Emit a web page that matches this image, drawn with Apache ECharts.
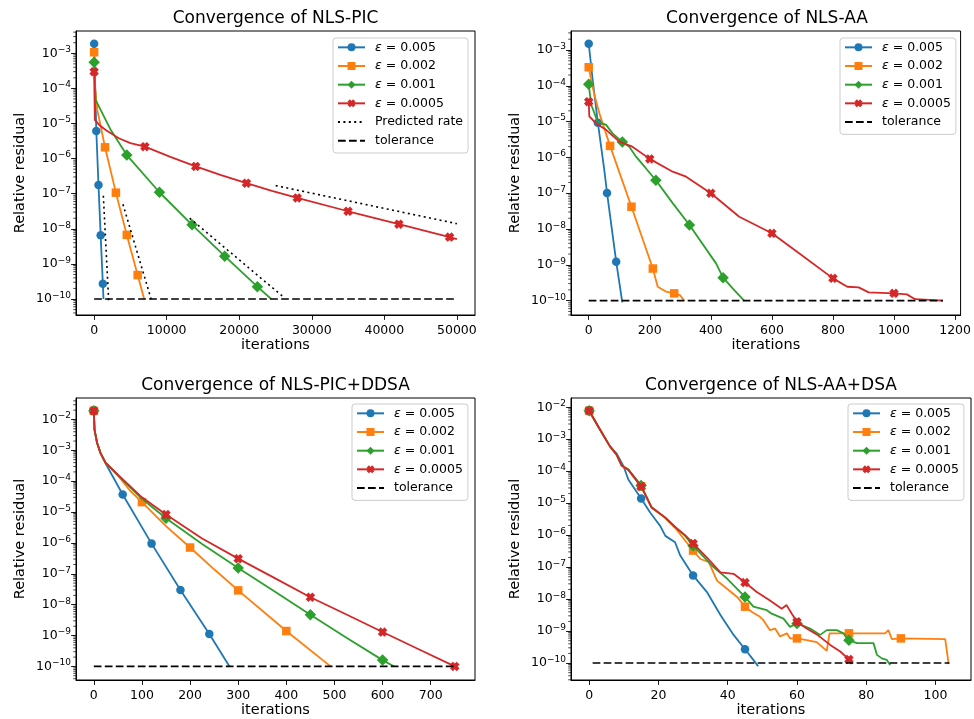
<!DOCTYPE html>
<html><head><meta charset="utf-8">
<script src="https://cdn.jsdelivr.net/npm/echarts/dist/echarts.min.js"></script>
<style>html,body{margin:0;padding:0;background:#fff}#c{width:974px;height:719px}</style>
</head><body><div id="c"></div>
<script>
// ---------------- DATA ----------------
const epsNames = ['ε = 0.005', 'ε = 0.002', 'ε = 0.001', 'ε = 0.0005'];
const titles = ['Convergence of NLS-PIC', 'Convergence of NLS-AA', 'Convergence of NLS-PIC+DDSA', 'Convergence of NLS-AA+DSA'];
const xName = 'iterations';
const yName = 'Relative residual';

// NLS-PIC
const picBlue = [[0,1.87e-3],[300,6.1e-6],[600,1.77e-7],[900,6.5e-9],[1200,2.7e-10],[1290,1.0e-10]];
const picOrange = [[0,1.07e-3],[110,1.1e-4],[440,2.4e-5],[1500,2.1e-6],[3000,1.07e-7],[4500,6.7e-9],[6000,4.8e-10],[6900,1.0e-10]];
const picGreen = [[0,5.6e-4],[200,4.7e-5],[2300,6.5e-6],[4500,1.26e-6],[9000,1.1e-7],[13500,1.3e-8],[18000,1.66e-9],[22500,2.24e-10],[24400,1.0e-10]];
const picRed = [[0,3.0e-4],[100,1.26e-5],[700,9.1e-6],[1600,6.5e-6],[3400,3.8e-6],[5000,2.75e-6],[7000,2.19e-6],[10500,1.12e-6],[14000,6.0e-7],[17500,3.4e-7],[21000,2.0e-7],[24500,1.2e-7],[28000,7.6e-8],[35000,3.16e-8],[42000,1.35e-8],[49000,5.8e-9],[50000,5.1e-9]];
const picPred1 = [[1270,8.7e-8],[2000,9.0e-11]];
const picPred2 = [[3970,5.0e-8],[7950,8.5e-11]];
const picPred3 = [[13170,2.0e-8],[26180,1.1e-10]];
const picPred4 = [[25030,1.7e-7],[50000,1.4e-8]];
const picTol = [[0,1e-10],[50000,1e-10]];
const picMarkEvery = [300,1500,4500,7000];

// NLS-AA
const aaBlue = [[0,1.5e-3],[13,1.45e-4],[30,9.3e-6],[51,4.5e-7],[60,1.02e-7],[90,1.23e-9],[110,9.0e-11]];
const aaOrange = [[0,3.3e-4],[8,1.45e-4],[20,5.0e-5],[35,1.7e-5],[70,2.1e-6],[101,3.7e-7],[140,4.2e-8],[210,7.9e-10],[226,2.45e-10],[254,1.78e-10],[280,1.6e-10],[300,1.4e-10],[313,1.0e-10]];
const aaGreen = [[0,1.1e-4],[8,3.0e-5],[29,1.0e-5],[57,8.1e-6],[78,4.7e-6],[110,2.7e-6],[133,2.0e-6],[155,1.05e-6],[187,5.0e-7],[220,2.3e-7],[275,5.3e-8],[330,1.3e-8],[417,1.1e-9],[440,4.4e-10],[476,2.0e-10],[509,1.0e-10]];
const aaRed = [[0,3.6e-5],[2,1.4e-5],[24,8.9e-6],[57,5.9e-6],[100,2.75e-6],[143,2.0e-6],[200,9.1e-7],[275,4.0e-7],[319,2.9e-7],[400,1.0e-7],[493,2.2e-8],[600,7.6e-9],[689,2.1e-9],[800,4.2e-10],[847,2.45e-10],[884,2.35e-10],[917,1.7e-10],[1000,1.6e-10],[1042,1.5e-10],[1069,1.1e-10],[1160,1.0e-10]];
const aaTol = [[0,1e-10],[1160,1e-10]];
const aaMarkEvery = [30,70,110,200];

// NLS-PIC+DDSA
const ddBlue = [[0,1.9e-2],[1.5,4.6e-3],[7,1.7e-3],[14,8.1e-4],[24,3.9e-4],[60,3.7e-5],[120,9.5e-7],[180,3.0e-8],[240,1.13e-9],[282,1.0e-10]];
const ddOrange = [[0,1.9e-2],[1.5,4.6e-3],[7,1.7e-3],[14,8.1e-4],[24,4.0e-4],[52,1.4e-4],[75,5.0e-5],[100,2.1e-5],[150,3.5e-6],[200,7.1e-7],[250,1.4e-7],[300,2.9e-8],[400,1.4e-9],[492,1.0e-10]];
const ddGreen = [[0,1.9e-2],[1.5,4.6e-3],[7,1.7e-3],[14,8.1e-4],[24,4.0e-4],[52,1.45e-4],[100,2.7e-5],[150,6.3e-6],[225,9.3e-7],[300,1.55e-7],[375,2.7e-8],[450,4.7e-9],[525,8.5e-10],[600,1.6e-10],[624,1.0e-10]];
const ddRed = [[0,1.9e-2],[1.5,4.6e-3],[7,1.7e-3],[14,8.1e-4],[24,4.1e-4],[52,1.5e-4],[100,3.0e-5],[150,8.3e-6],[225,1.4e-6],[300,3.1e-7],[375,7.4e-8],[450,1.74e-8],[525,4.8e-9],[600,1.3e-9],[675,3.6e-10],[750,1.0e-10]];
const ddTol = [[0,1e-10],[750,1e-10]];
const ddMarkEvery = [60,100,150,150];

// NLS-AA+DSA
const dsaBlue = [[0,7.8e-3],[2.6,2.5e-3],[6,6.0e-4],[8,3.5e-4],[9.9,1.45e-4],[11.3,5.5e-5],[15,1.4e-5],[17.6,5.1e-6],[19,3.2e-6],[20.5,1.95e-6],[22,9.5e-7],[24.8,6.0e-7],[26.3,2.3e-7],[30,5.5e-8],[34,1.66e-8],[37.9,3.2e-9],[41.7,7.6e-10],[45,2.7e-10],[47.4,1.26e-10],[48.8,7.9e-11]];
const dsaOrange = [[0,7.8e-3],[2.6,2.5e-3],[6,6.0e-4],[7.9,3.3e-4],[9.4,1.45e-4],[11.3,1.1e-4],[15,3.4e-5],[18,7.2e-6],[21.9,3.5e-6],[24.8,1.7e-6],[27.7,6.8e-7],[30,3.3e-7],[32.1,1.8e-7],[34.5,1.45e-7],[36.9,3.8e-8],[39.8,2.1e-8],[42.7,1.17e-8],[45,5.8e-9],[46.9,4.0e-9],[49.3,2.8e-9],[50.3,2.2e-9],[52.2,1.07e-9],[53.7,1.2e-9],[55.1,6.8e-10],[57.1,8.5e-10],[58,5.9e-10],[60,5.9e-10],[62.8,5.2e-10],[65.7,4.5e-10],[68.6,2.4e-10],[69.4,8.5e-10],[75,8.5e-10],[85.4,8.5e-10],[86.4,1.07e-9],[87.4,5.6e-10],[90,5.9e-10],[102.8,5.6e-10],[103.8,9.3e-11]];
const dsaGreen = [[0,7.8e-3],[2.6,2.5e-3],[6,6.0e-4],[7.9,3.3e-4],[9.4,1.5e-4],[11.3,1.15e-4],[15,3.6e-5],[18,7.5e-6],[21.9,3.6e-6],[24.8,1.8e-6],[27.7,9.5e-7],[30,4.7e-7],[35.9,1.0e-7],[39.8,4.4e-8],[45,1.17e-8],[47.4,5.8e-9],[51.3,4.5e-9],[52.7,3.5e-9],[56.1,2.45e-9],[58,1.35e-9],[60,1.74e-9],[63.8,1.2e-9],[66.7,7.6e-10],[68.6,1.07e-9],[71.5,1.07e-9],[73.4,8.5e-10],[75,5.2e-10],[77.3,4.2e-10],[82.1,4.2e-10],[83.1,1.8e-10],[84.5,1.4e-10],[85.9,1.26e-10],[86.9,8.7e-11]];
const dsaRed = [[0,7.8e-3],[2.6,2.5e-3],[6,6.0e-4],[7.9,3.3e-4],[9.4,1.5e-4],[11.3,1.1e-4],[15,3.3e-5],[18,7.5e-6],[21.9,3.6e-6],[24.8,1.8e-6],[27.7,1.0e-6],[30,5.5e-7],[34,2.0e-7],[37.9,6.9e-8],[41.7,6.2e-8],[45,3.3e-8],[48.4,1.66e-8],[52.2,9.1e-9],[55.6,5.0e-9],[57,6.5e-9],[58.5,3.5e-9],[60,1.95e-9],[62.8,1.2e-9],[65.7,7.9e-10],[69.6,3.7e-10],[72.5,2.3e-10],[75,1.3e-10],[75.8,9.3e-11]];
const dsaTol = [[1,1e-10],[104,1e-10]];
const dsaMarkEvery = [15,15,15,15];

// minor tick values of the log axes (2..9 x 10^n)
const minorTickVals = [];
for (let n = -11; n <= -1; n++) for (let k = 2; k <= 9; k++) minorTickVals.push(k * Math.pow(10, n));

// ---------------- STYLE / LAYOUT ----------------
const FONT = 'DejaVu Sans';
const COLORS = ['#1f77b4', '#ff7f0e', '#2ca02c', '#d62728'];
const X_PATH = 'path://M3,0L5,2L7,0L10,3L8,5L10,7L7,10L5,8L3,10L0,7L2,5L0,3Z';
const SYMBOLS = ['circle', 'rect', 'diamond', X_PATH];
const SYM_SIZES = [8.5, 8.5, 11.5, 9.5];

const panels = [
  { series: [picBlue, picOrange, picGreen, picRed], marks: picMarkEvery, pred: [picPred1, picPred2, picPred3, picPred4], tol: picTol,
    grid: { left: 76, top: 31, width: 399, height: 284 }, x: [-2500, 52500], xSplit: 5, y: [-10.456, -2.365],
    title: { x: 275.5, y: 9 }, legend: { left: 333, top: 38 } },
  { series: [aaBlue, aaOrange, aaGreen, aaRed], marks: aaMarkEvery, pred: null, tol: aaTol,
    grid: { left: 571, top: 31, width: 392, height: 284 }, x: [-58, 1218], xSplit: 6, y: [-10.40, -2.47],
    title: { x: 767, y: 9 }, legend: { left: 840, top: 38 } },
  { series: [ddBlue, ddOrange, ddGreen, ddRed], marks: ddMarkEvery, pred: null, tol: ddTol,
    grid: { left: 76, top: 398, width: 399, height: 284 }, x: [-37, 792], xSplit: 8, y: [-10.44, -1.305],
    title: { x: 275.5, y: 376 }, legend: { left: 352, top: 404 } },
  { series: [dsaBlue, dsaOrange, dsaGreen, dsaRed], marks: dsaMarkEvery, pred: null, tol: dsaTol,
    grid: { left: 571, top: 398, width: 400, height: 284 }, x: [-5.25, 110.25], xSplit: 6, y: [-10.53, -1.71],
    title: { x: 771, y: 376 }, legend: { left: 848, top: 404 } }
];

const grid = [], xAxis = [], yAxis = [], series = [], legend = [], title = [];

function yFormatter(v) {
  const l = Math.log10(v), e = Math.round(l);
  if (Math.abs(l - e) > 1e-6) return '';
  return '{b|10}{s|' + (e < 0 ? '\u2212' : '') + Math.abs(e) + '}';
}

panels.forEach((p, gi) => {
  grid.push(Object.assign({ show: true, borderColor: '#000', borderWidth: 1, backgroundColor: 'transparent' }, p.grid));
  title.push({ text: titles[gi], left: p.title.x, top: p.title.y, textAlign: 'center', padding: 0,
    textStyle: { fontSize: 17, fontWeight: 'normal', fontFamily: FONT, color: '#000', lineHeight: 20 } });
  const xmin = p.x[0], xmax = p.x[1];
  xAxis.push({ type: 'value', gridIndex: gi, min: xmin, max: xmax, splitNumber: p.xSplit,
    axisLine: { show: true, onZero: false, lineStyle: { color: '#000', width: 1 } },
    axisTick: { show: true, length: 4.9, lineStyle: { color: '#000', width: 0.9 } },
    splitLine: { show: false },
    axisLabel: { color: '#000', fontSize: 12.5, fontFamily: FONT, margin: 9, showMinLabel: false, showMaxLabel: false,
      formatter: v => (Math.abs(v - xmin) < 1e-9 || Math.abs(v - xmax) < 1e-9) ? '' : String(Math.round(v * 1000) / 1000) },
    name: xName, nameLocation: 'middle', nameGap: 23,
    nameTextStyle: { fontSize: 14.5, fontFamily: FONT, color: '#000' } });
  yAxis.push({ type: 'log', logBase: 10, gridIndex: gi, min: Math.pow(10, p.y[0]), max: Math.pow(10, p.y[1]),
    axisLine: { show: true, onZero: false, lineStyle: { color: '#000', width: 1 } },
    axisTick: { show: true, length: 4.9, lineStyle: { color: '#000', width: 0.9 } },
    splitLine: { show: false },
    axisLabel: { color: '#000', margin: 5, formatter: yFormatter, showMinLabel: false, showMaxLabel: false,
      rich: { b: { fontSize: 12.5, fontFamily: FONT, color: '#000', lineHeight: 16 },
              s: { fontSize: 9, fontFamily: FONT, color: '#000', lineHeight: 10, verticalAlign: 'top' } } },
    name: yName, nameLocation: 'middle', nameGap: 48,
    nameTextStyle: { fontSize: 14.5, fontFamily: FONT, color: '#000' } });

  p.series.forEach((d, si) => {
    const step = p.marks[si];
    series.push({ type: 'line', name: epsNames[si], xAxisIndex: gi, yAxisIndex: gi, data: d,
      symbol: SYMBOLS[si], showSymbol: true, showAllSymbol: true,
      symbolSize: v => (Math.abs(v[0] % step) < 1e-9 ? SYM_SIZES[si] : 0),
      lineStyle: { color: COLORS[si], width: 1.8 }, itemStyle: { color: COLORS[si] },
      z: 2 + si, animation: false, silent: true });
  });
  if (p.pred) p.pred.forEach(d => series.push({ type: 'line', name: 'Predicted rate', xAxisIndex: gi, yAxisIndex: gi, data: d,
    symbol: 'none', lineStyle: { color: '#000', width: 1.6, type: [2, 3.4] }, itemStyle: { color: '#000' }, z: 7, animation: false, silent: true }));
  series.push({ type: 'line', name: 'tolerance', xAxisIndex: gi, yAxisIndex: gi, data: p.tol,
    symbol: 'none', lineStyle: { color: '#000', width: 1.6, type: [7.7, 3.3] }, itemStyle: { color: '#000' }, z: 8, animation: false, silent: true });

  const ymin = Math.pow(10, p.y[0]), ymax = Math.pow(10, p.y[1]);
  series.push({ type: 'custom', name: '_minor' + gi, xAxisIndex: gi, yAxisIndex: gi, silent: true, clip: false, z: 9, animation: false,
    data: minorTickVals.filter(v => v > ymin && v < ymax).map(v => [xmin, v]),
    renderItem: (params, api) => {
      const pt = api.coord([api.value(0), api.value(1)]);
      return { type: 'line', shape: { x1: pt[0] - 2.8, y1: pt[1], x2: pt[0], y2: pt[1] }, style: { stroke: '#000', lineWidth: 0.7 } };
    } });

  const ldata = epsNames.map(n => ({ name: n }));
  if (p.pred) ldata.push({ name: 'Predicted rate', itemStyle: { opacity: 0 } });
  ldata.push({ name: 'tolerance', itemStyle: { opacity: 0 } });
  legend.push({ orient: 'vertical', left: p.legend.left, top: p.legend.top, data: ldata, selectedMode: false,
    itemWidth: 27, itemHeight: 10, itemGap: 0, padding: [0, 5, 3, 4],
    borderColor: '#cccccc', borderWidth: 1, borderRadius: 3, backgroundColor: 'rgba(255,255,255,0.8)',
    formatter: n => (n.charAt(0) === 'ε' ? '{e|ε}' + n.slice(1) : n),
    textStyle: { fontSize: 12.5, fontFamily: FONT, color: '#000', lineHeight: 18.67, padding: [0, 0, 0, 5],
      rich: { e: { fontSize: 12.5, fontFamily: FONT, fontStyle: 'italic', color: '#000', lineHeight: 18.67 } } } });
});

const chart = echarts.init(document.getElementById('c'), null, { renderer: 'canvas' });
chart.setOption({ backgroundColor: '#fff', animation: false, title, grid, xAxis, yAxis, series, legend });
</script></body></html>
